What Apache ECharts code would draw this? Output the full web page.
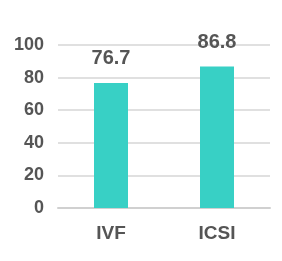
<!DOCTYPE html>
<html><head><meta charset="utf-8">
<script src="https://cdn.jsdelivr.net/npm/echarts@6/dist/echarts.min.js"></script>
<style>html,body{margin:0;padding:0;background:#fff}#c{width:282px;height:261px}</style>
</head><body><div id="c"></div>
<script>
const categories = ['IVF', 'ICSI'];
const values = [76.7, 86.8];
const yTicks = [0, 20, 40, 60, 80, 100];

const chart = echarts.init(document.getElementById('c'), null, {renderer: 'canvas'});
chart.setOption({
  animation: false,
  grid: {left: 58, right: 12, top: 45, bottom: 53},
  xAxis: {
    type: 'category', data: categories,
    axisLine: {lineStyle: {color: '#d0d0d0', width: 2}},
    axisTick: {show: false},
    axisLabel: {color: '#555', fontWeight: 'bold', fontSize: 19, fontFamily: 'Liberation Sans, Arial', margin: 16}
  },
  yAxis: {
    type: 'value', min: yTicks[0], max: yTicks[yTicks.length - 1], interval: 20,
    axisLine: {show: false}, axisTick: {show: false},
    splitLine: {lineStyle: {color: '#e0e0e0', width: 2}},
    axisLabel: {color: '#555', fontWeight: 'bold', fontSize: 18, fontFamily: 'Liberation Sans, Arial', margin: 14}
  },
  series: [{
    type: 'bar', data: values, barWidth: 34,
    itemStyle: {color: '#38D0C5'},
    label: {show: true, position: 'top', distance: 14, color: '#555', fontWeight: 'bold', fontSize: 20, fontFamily: 'Liberation Sans, Arial'}
  }]
});
</script></body></html>
